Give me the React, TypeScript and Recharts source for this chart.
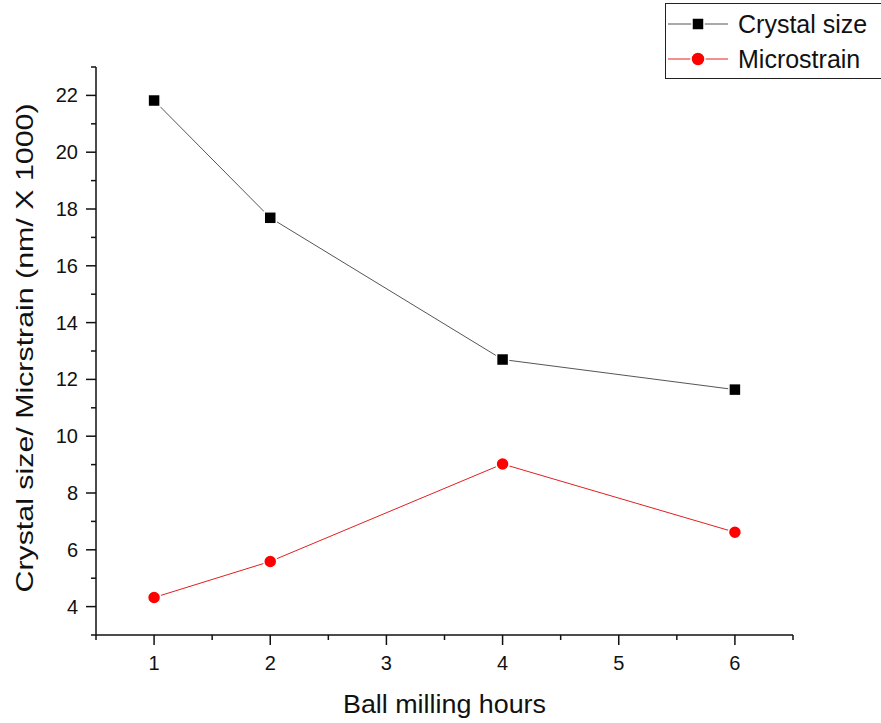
import React from 'react';
import { LineChart, Line, XAxis, YAxis, Legend } from 'recharts';

const hours = [1, 2, 4, 6];
const crystalSize = [21.82, 17.69, 12.7, 11.64];
const microstrain = [4.32, 5.59, 9.02, 6.62];
const seriesNames = ['Crystal size', 'Microstrain'];
const xTicks = [0.5, 1, 1.5, 2, 2.5, 3, 3.5, 4, 4.5, 5, 5.5, 6, 6.5];
const yTicks = [3, 4, 5, 6, 7, 8, 9, 10, 11, 12, 13, 14, 15, 16, 17, 18, 19, 20, 21, 22, 23];
const xTitle = 'Ball milling hours';
const yTitle = 'Crystal size/ Micrstrain (nm/ X 1000)';

const data = hours.map((h, i) => ({ h, crystal: crystalSize[i], strain: microstrain[i] }));

const FONT = 'Arial, "Liberation Sans", sans-serif';
const AXIS = '#111';

const XTick = (props: any) => {
  const { x, y, payload } = props;
  const v = payload.value;
  const major = Number.isInteger(v);
  return (
    <g>
      <line x1={x} x2={x} y1={y} y2={y + (major ? 10 : 5)} stroke={AXIS} strokeWidth={1.5} />
      {major && (
        <text x={x} y={y + 35} textAnchor="middle" fontSize={20} fontFamily={FONT} fill="#111">
          {v}
        </text>
      )}
    </g>
  );
};

const YTick = (props: any) => {
  const { x, y, payload } = props;
  const v = payload.value;
  const major = v % 2 === 0;
  return (
    <g>
      <line x1={x - (major ? 10 : 5)} x2={x} y1={y} y2={y} stroke={AXIS} strokeWidth={1.5} />
      {major && (
        <text x={x - 18} y={y} dy="0.35em" textAnchor="end" fontSize={20} fontFamily={FONT} fill="#111">
          {v}
        </text>
      )}
    </g>
  );
};

const SquareDot = (props: any) => {
  const { cx, cy, key } = props;
  if (cx == null || cy == null) return <g key={key} />;
  return <rect key={key} x={cx - 6} y={cy - 6} width={12} height={12} fill="#000" stroke="#fff" strokeWidth={1.5} />;
};

const CircleDot = (props: any) => {
  const { cx, cy, key } = props;
  if (cx == null || cy == null) return <g key={key} />;
  return <circle key={key} cx={cx} cy={cy} r={6.5} fill="#ff0000" stroke="#fff" strokeWidth={1.5} />;
};

const renderLegend = () => (
  <div
    style={{
      width: 225,
      height: 76,
      border: '1.5px solid #222',
      background: '#fff',
      boxSizing: 'border-box',
      fontFamily: FONT,
      fontSize: 25,
      color: '#111',
    }}
  >
    {seriesNames.map((name, i) => (
      <div key={name} style={{ display: 'flex', alignItems: 'center', height: 35, marginTop: i === 0 ? 2 : 0 }}>
        <svg width={70} height={30} style={{ flex: 'none' }}>
          <line x1={2} x2={62} y1={15} y2={15} stroke={i === 0 ? '#555' : '#e02020'} strokeWidth={1} />
          {i === 0 ? (
            <rect x={26} y={9} width={12} height={12} fill="#000" stroke="#fff" strokeWidth={1.5} />
          ) : (
            <circle cx={32} cy={15} r={7} fill="#ff0000" stroke="#fff" strokeWidth={1.5} />
          )}
        </svg>
        <span style={{ marginLeft: 2, lineHeight: '30px' }}>{name}</span>
      </div>
    ))}
  </div>
);

export default function App() {
  return (
    <div style={{ position: 'absolute', left: 0, top: 0, width: 881, height: 723, background: '#fff' }}>
      <LineChart width={881} height={723} data={data} margin={{ top: 67, right: 88, bottom: 0, left: 0 }}>
        <XAxis
          dataKey="h"
          type="number"
          domain={[0.5, 6.5]}
          ticks={xTicks}
          interval={0}
          height={88}
          tickSize={0}
          tickMargin={0}
          tickLine={false}
          axisLine={{ stroke: AXIS, strokeWidth: 1.5 }}
          tick={<XTick />}
          label={{
            content: (p: any) => {
              const vb = p.viewBox;
              return (
                <text
                  x={vb.x + vb.width / 2}
                  y={713}
                  textAnchor="middle"
                  fontSize={25}
                  textLength={203}
                  lengthAdjust="spacingAndGlyphs"
                  fontFamily={FONT}
                  fill="#111"
                >
                  {xTitle}
                </text>
              );
            },
          }}
        />
        <YAxis
          type="number"
          domain={[3, 23]}
          ticks={yTicks}
          interval={0}
          width={96}
          tickSize={0}
          tickMargin={0}
          tickLine={false}
          axisLine={{ stroke: AXIS, strokeWidth: 1.5 }}
          tick={<YTick />}
          label={{
            content: () => (
              <text
                x={33}
                y={348}
                transform="rotate(-90 33 348)"
                textAnchor="middle"
                fontSize={24}
                textLength={489}
                lengthAdjust="spacingAndGlyphs"
                fontFamily={FONT}
                fill="#111"
              >
                {yTitle}
              </text>
            ),
          }}
        />
        <Legend
          layout="vertical"
          align="center"
          verticalAlign="middle"
          content={renderLegend}
          wrapperStyle={{ position: 'absolute', left: 665, top: 3, width: 225, height: 76 }}
        />
        <Line
          type="linear"
          dataKey="crystal"
          name={seriesNames[0]}
          stroke="#555"
          strokeWidth={1}
          dot={SquareDot}
          activeDot={false}
          isAnimationActive={false}
        />
        <Line
          type="linear"
          dataKey="strain"
          name={seriesNames[1]}
          stroke="#e02020"
          strokeWidth={1}
          dot={CircleDot}
          activeDot={false}
          isAnimationActive={false}
        />
      </LineChart>
    </div>
  );
}
